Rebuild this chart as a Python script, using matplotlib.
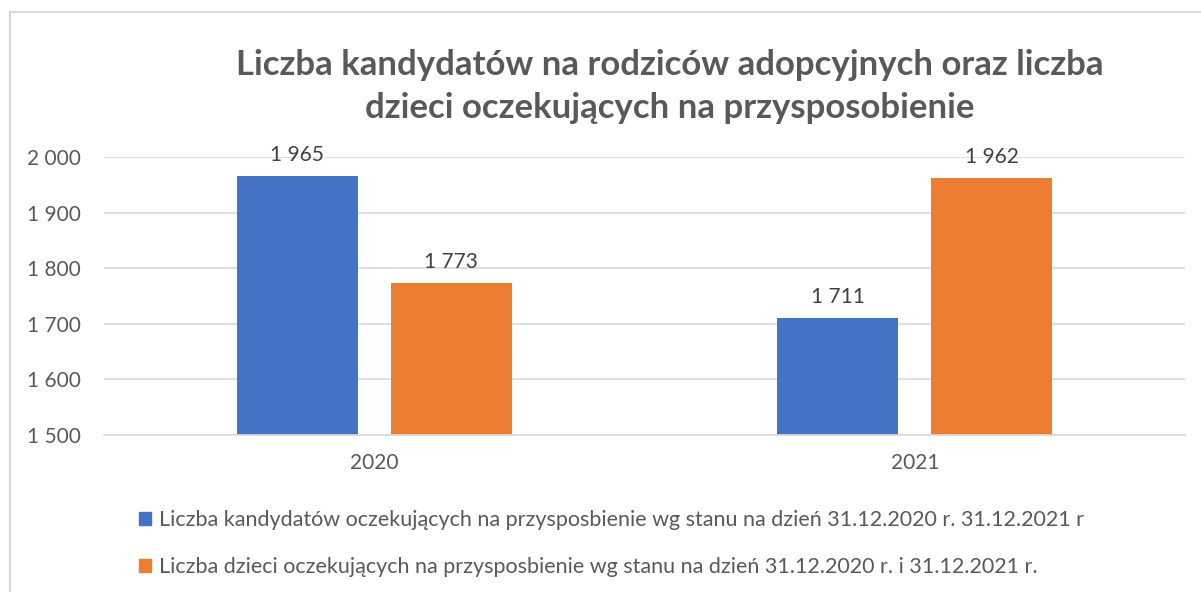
import matplotlib
matplotlib.use("Agg")
import matplotlib.pyplot as plt
from matplotlib.ticker import FuncFormatter
from matplotlib.lines import Line2D
from matplotlib.patches import Patch
import numpy as np

# Dane
lata = ["2020", "2021"]
kandydaci = [1965, 1711]
dzieci = [1773, 1962]
etykiety = [
    "Liczba kandydatów oczekujących na przysposbienie wg stanu na dzień 31.12.2020 r. 31.12.2021 r",
    "Liczba dzieci oczekujących na przysposbienie wg stanu na dzień 31.12.2020 r. i 31.12.2021 r.",
]
tytul = "Liczba kandydatów na rodziców adopcyjnych oraz liczba\ndzieci oczekujących na przysposobienie"

plt.rcParams['font.family'] = ['Lato', 'DejaVu Sans']
szary = '#595959'
niebieski = '#4472C4'
pomaranczowy = '#ED7D31'

fig = plt.figure(figsize=(12.01, 5.92), dpi=100)
ax = fig.add_axes([0.0866, 0.2652, 0.9001, 0.4696])

x = np.arange(len(lata))
w = 0.224
off = 0.1426
b1 = ax.bar(x - off, kandydaci, w, color=niebieski, zorder=2)
b2 = ax.bar(x + off, dzieci, w, color=pomaranczowy, zorder=2)

fmt = lambda v: f"{v:,.0f}".replace(",", " ")
for bars in (b1, b2):
    ax.bar_label(bars, labels=[fmt(b.get_height()) for b in bars], padding=8,
                 fontsize=15, color='#404040')

ax.set_ylim(1500, 2000)
ax.set_xlim(-0.5, 1.5)
ax.set_yticks(range(1500, 2001, 100))
ax.yaxis.set_major_formatter(FuncFormatter(lambda v, p: fmt(v)))
ax.set_xticks(x)
ax.set_xticklabels(lata)
ax.tick_params(axis='both', length=0, labelsize=15, labelcolor=szary)
ax.tick_params(axis='y', pad=17)
ax.tick_params(axis='x', pad=13)
ax.grid(axis='y', color='#D9D9D9', linewidth=1.2, zorder=0)
for s in ['top', 'right', 'left']:
    ax.spines[s].set_visible(False)
ax.spines['bottom'].set_color('#D9D9D9')
ax.spines['bottom'].set_linewidth(1.2)

fig.text(0.558, 0.854, tytul, ha='center', va='center', fontsize=25,
         fontweight='bold', color=szary, linespacing=1.42)

# Legenda
uchwyty = [Patch(color=niebieski), Patch(color=pomaranczowy)]
fig.legend(uchwyty, etykiety, loc='upper left', bbox_to_anchor=(0.1, 0.171),
           frameon=False, fontsize=15.5, labelcolor=szary, handlelength=0.55,
           handleheight=0.55, handletextpad=0.35, labelspacing=1.25)

# Ramka wykresu
fig.add_artist(Line2D([0.0083, 0.0083], [0.9797, 0.0], transform=fig.transFigure,
                      color='#D9D9D9', linewidth=1.5))
fig.add_artist(Line2D([0.0083, 1.0], [0.9797, 0.9797], transform=fig.transFigure,
                      color='#D9D9D9', linewidth=1.5))

fig.savefig("out.png", dpi=100)
